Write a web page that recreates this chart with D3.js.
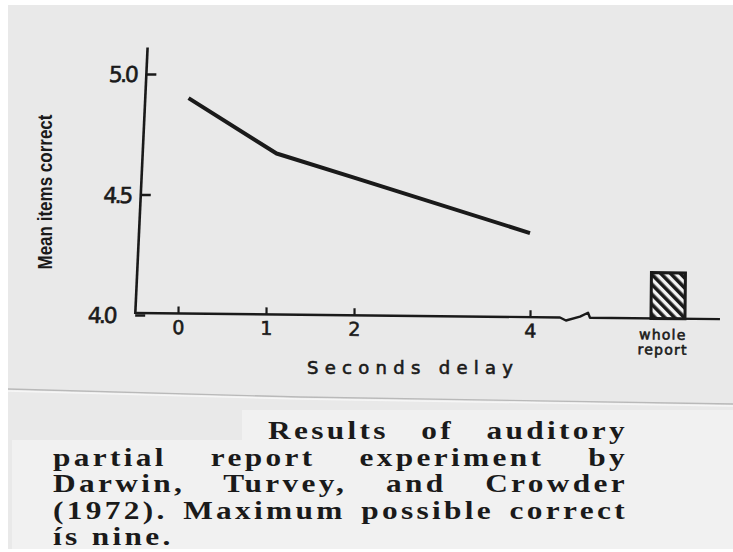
<!DOCTYPE html>
<html>
<head>
<meta charset="utf-8">
<script src="https://cdn.jsdelivr.net/npm/d3@7"></script>
<style>
  html, body { margin: 0; padding: 0; background: #ffffff; }
  svg { display: block; }
  .tick text { fill: #1a1a1a; }
</style>
</head>
<body>
<div id="chart"></div>
<script>
'use strict';

const delays = [0.12, 1.12, 2, 4];
const meanCorrect = [4.9, 4.67, 4.57, 4.34];
const wholeCategory = ['whole report'];
const wholeReport = [4.19];
const xTicks = [0, 1, 2, 4];
const yTicks = [4.0, 4.5, 5.0];
const yLabel = 'Mean items correct';
const xLabel = 'Seconds delay';
const captionLines = [
  'Results of auditory',
  'partial report experiment by',
  'Darwin, Turvey, and Crowder',
  '(1972). Maximum possible correct',
  'ís nine.'
];

const initPartialReportChart = (element) => {
  const W = 733;
  const H = 552;
  const ink = '#1a1a1a';
  const sans = 'DejaVu Sans, sans-serif';

  d3.select(element).selectAll('*').remove();

  const svg = d3
    .select(element)
    .append('svg')
    .attr('width', W)
    .attr('height', H)
    .attr('viewBox', `0 0 ${W} ${H}`);

  // scanned paper look
  svg.append('rect').attr('width', W).attr('height', H).attr('fill', '#ffffff');
  svg.append('rect').attr('x', 8).attr('y', 5).attr('width', W - 8).attr('height', H - 8).attr('fill', '#e9e9e9');
  svg.append('rect').attr('x', 242).attr('y', 410).attr('width', W - 242).attr('height', 32).attr('fill', '#f1f1f1');
  svg.append('rect').attr('x', 12).attr('y', 440).attr('width', W - 12).attr('height', H - 443).attr('fill', '#f1f1f1');
  svg.append('path').attr('d', 'M8,389 L300,397 L733,404').attr('fill', 'none').attr('stroke', '#b9b9b9').attr('stroke-width', 1.3);
  svg.append('path').attr('d', 'M8,391 L300,399 L733,406').attr('fill', 'none').attr('stroke', '#f6f6f6').attr('stroke-width', 1.5);

  const xScale = d3
    .scaleLinear()
    .domain([0, 4])
    .range([178, 530]);

  const yScale = d3
    .scaleLinear()
    .domain([4, 5])
    .range([315, 74]);

  const wholeScale = d3
    .scaleBand()
    .domain(wholeCategory)
    .range([634, 702])
    .paddingInner(0)
    .paddingOuter(0.5);

  const defs = svg.append('defs');
  const hatch = defs
    .append('pattern')
    .attr('id', 'hatch')
    .attr('patternUnits', 'userSpaceOnUse')
    .attr('width', 7)
    .attr('height', 7)
    .attr('patternTransform', 'rotate(-45)');
  hatch.append('rect').attr('width', 7).attr('height', 7).attr('fill', '#f2f2f2');
  hatch.append('rect').attr('width', 3.6).attr('height', 7).attr('fill', ink);

  // thicken thin sans text a little, like the photocopy
  const inked = (sel) => sel
    .attr('fill', ink)
    .attr('stroke', ink)
    .attr('stroke-width', 0.6);

  // y axis, slightly skewed like the drawing
  const axisX = 141;
  const yAxis = svg
    .append('g')
    .attr('transform', `translate(${axisX}, 190) skewX(-2.65) translate(0, -190)`);

  yAxis
    .call(
      d3.axisLeft(yScale)
        .tickValues(yTicks)
        .tickSizeInner(-10)
        .tickSizeOuter(0)
        .tickPadding(10)
        .tickFormat(d3.format('.1f'))
    )
    .call(g => g.select('.domain').remove())
    .call(g => g.selectAll('.tick line').attr('stroke', ink).attr('stroke-width', 2.4))
    .call(g => g.selectAll('.tick text')
      .attr('font-family', sans)
      .attr('font-size', 22)
      .attr('letter-spacing', -2.5)
      .attr('dy', '0.35em')
      .attr('dx', d => d === 4 ? -10 : 0)
      .call(inked));

  yAxis
    .append('line')
    .attr('x1', 0)
    .attr('x2', 0)
    .attr('y1', yScale(4) - 1)
    .attr('y2', yScale(5.11))
    .attr('stroke', ink)
    .attr('stroke-width', 2.6);

  svg
    .append('text')
    .attr('transform', `translate(52, 192) rotate(-90)`)
    .attr('text-anchor', 'middle')
    .attr('font-family', 'Liberation Sans, sans-serif')
    .attr('font-weight', 'bold')
    .attr('font-size', 21)
    .attr('fill', ink)
    .attr('textLength', 155)
    .attr('lengthAdjust', 'spacingAndGlyphs')
    .text(yLabel);

  // x axis, with a small downward drift to the right
  const baseY = 313;
  const xAxis = svg
    .append('g')
    .attr('transform', `translate(135, ${baseY}) rotate(0.6) translate(-135, 0)`);

  xAxis
    .call(
      d3.axisBottom(xScale)
        .tickValues(xTicks)
        .tickSizeInner(-7)
        .tickSizeOuter(0)
        .tickPadding(7)
        .tickFormat(d3.format('d'))
    )
    .call(g => g.select('.domain').remove())
    .call(g => g.selectAll('.tick line').attr('stroke', ink).attr('stroke-width', 2.2))
    .call(g => g.selectAll('.tick text')
      .attr('font-family', sans)
      .attr('font-size', 19)
      .call(inked));

  const breakX = 560;
  const axisPath = d3.path();
  axisPath.moveTo(135, 0);
  axisPath.lineTo(breakX, 0);
  axisPath.lineTo(breakX + 6, 3);
  axisPath.lineTo(breakX + 20, -1);
  axisPath.lineTo(breakX + 28, -5);
  axisPath.lineTo(breakX + 30, 0);
  axisPath.lineTo(720, 0);

  xAxis
    .append('path')
    .attr('d', axisPath.toString())
    .attr('fill', 'none')
    .attr('stroke', ink)
    .attr('stroke-width', 2.4)
    .attr('stroke-linejoin', 'round');

  // whole report bar
  const bars = xAxis
    .selectAll('.bar')
    .data(wholeCategory.map((c, i) => ({ label: c, value: wholeReport[i] })))
    .enter()
    .append('g')
    .attr('class', 'bar');

  bars
    .append('rect')
    .attr('x', d => wholeScale(d.label))
    .attr('y', d => yScale(d.value) - yScale(4))
    .attr('width', wholeScale.bandwidth())
    .attr('height', d => yScale(4) - yScale(d.value))
    .attr('fill', 'url(#hatch)')
    .attr('stroke', ink)
    .attr('stroke-width', 3);

  bars
    .selectAll('.cat')
    .data(d => d.label.split(' ').map((w, i) => ({ w, i, x: wholeScale(d.label) + wholeScale.bandwidth() / 2 })))
    .enter()
    .append('text')
    .attr('x', d => d.x - 5)
    .attr('y', d => 21 + d.i * 15)
    .attr('text-anchor', 'middle')
    .attr('font-family', sans)
    .attr('font-size', 14)
    .attr('letter-spacing', 1.2)
    .call(inked)
    .text(d => d.w);

  svg
    .append('text')
    .attr('x', 307)
    .attr('y', 374)
    .attr('font-family', sans)
    .attr('font-size', 18)
    .attr('textLength', 206)
    .attr('lengthAdjust', 'spacing')
    .call(inked)
    .text(xLabel);

  // partial report line
  const points = delays.map((d, i) => ({ x: d, y: meanCorrect[i] }));
  const line = d3
    .line()
    .x(d => xScale(d.x))
    .y(d => yScale(d.y));

  svg
    .append('path')
    .datum(points)
    .attr('d', line)
    .attr('fill', 'none')
    .attr('stroke', ink)
    .attr('stroke-width', 4)
    .attr('stroke-linejoin', 'round');

  // caption: the scan is stretched sideways, lines justified by the word gaps
  const capLeft = 53;
  const capRight = 628;
  const capTop = 439;
  const capStep = 26.5;
  const stretch = 1.28;

  svg
    .append('g')
    .selectAll('text')
    .data(captionLines)
    .enter()
    .append('text')
    .attr('transform', (d, i) => `translate(${i === 0 ? 268 : capLeft}, ${capTop + i * capStep}) scale(${stretch}, 1)`)
    .attr('font-family', 'Liberation Serif, serif')
    .attr('font-weight', 'bold')
    .attr('font-size', 24.5)
    .attr('letter-spacing', 2.6)
    .attr('fill', ink)
    .text(d => d)
    .each(function(d, i) {
      if (i === captionLines.length - 1) return;
      const start = i === 0 ? 268 : capLeft;
      const gaps = d.split(' ').length - 1;
      const natural = this.getComputedTextLength();
      const extra = ((capRight - start) / stretch - natural) / gaps;
      d3.select(this).attr('word-spacing', extra);
    });
};

initPartialReportChart(document.getElementById('chart'));
</script>
</body>
</html>
